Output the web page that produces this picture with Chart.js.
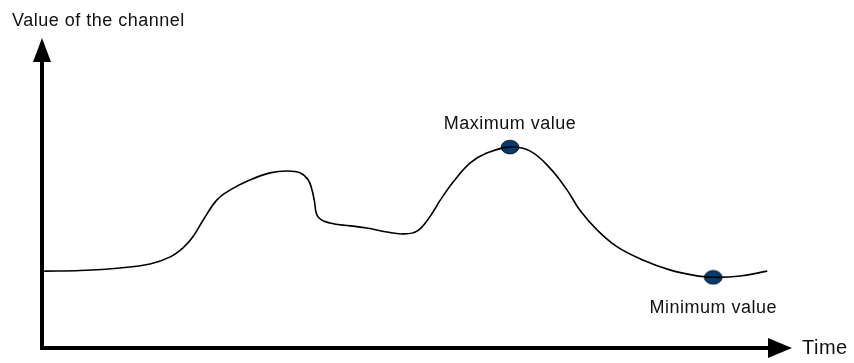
<!DOCTYPE html>
<html>
<head>
<meta charset="utf-8">
<title>Value of the channel</title>
<script src="https://cdn.jsdelivr.net/npm/chart.js@4"></script>
<style>
    html, body { margin: 0; padding: 0; background: #fff; }
    #wrap { width: 854px; height: 363px; position: relative; }
</style>
</head>
<body>
<div id="wrap"><canvas id="grafico"></canvas></div>
<script>
// curve samples (time, value)
const tempos = [0.3, 5.1, 10.4, 14.4, 17.1, 18.8, 20.1, 21.5, 23.3, 25.1, 27.7, 30.4, 32.7, 34.4, 35.5,
    36.0, 36.3, 36.8, 38.4, 41.1, 43.3, 46.0, 48.1, 50.0, 51.7, 53.1, 54.8, 57.1, 59.3, 62.4,
    65.1, 67.7, 70.0, 71.7, 74.0, 76.7, 80.1, 83.7, 86.8, 89.5, 93.1, 96.7];
const valores = [24.8, 25.0, 25.8, 27.1, 29.4, 32.3, 35.8, 41.3, 47.7, 51.0, 54.2, 56.5, 57.1, 56.5, 54.2,
    51.0, 47.7, 42.3, 40.3, 39.4, 38.7, 37.4, 36.8, 37.7, 42.3, 47.7, 53.5, 59.7, 62.9, 64.8,
    63.5, 58.1, 51.0, 44.5, 38.1, 32.6, 28.4, 25.2, 23.5, 22.8, 23.2, 24.8];

// marked extremes
const extremosTempo = [62.4, 89.5];
const extremosValor = [64.8, 22.8];
const extremosRotulo = ["Maximum value", "Minimum value"];

const tituloY = "Value of the channel";
const tituloX = "Time";

const fonte = '"Liberation Sans", Arial, sans-serif';

// oval marker for the extremes
function criarMarcador() {
    const c = document.createElement('canvas');
    c.width = 20;
    c.height = 16;
    const g = c.getContext('2d');
    g.beginPath();
    g.ellipse(10, 8, 8.8, 6.8, 0, 0, Math.PI * 2);
    g.fillStyle = '#023a72';
    g.fill();
    g.lineWidth = 1;
    g.strokeStyle = '#111';
    g.stroke();
    return c;
}

const eixosPlugin = {
    id: 'eixos',
    beforeDatasetsDraw(chart) {
        const { ctx, chartArea } = chart;
        const x0 = chartArea.left, y0 = chartArea.bottom;
        ctx.save();
        ctx.strokeStyle = '#000';
        ctx.fillStyle = '#000';
        ctx.lineWidth = 4;
        ctx.lineCap = 'butt';
        // vertical axis
        ctx.beginPath();
        ctx.moveTo(x0, y0 + 2);
        ctx.lineTo(x0, chartArea.top + 22);
        ctx.stroke();
        ctx.beginPath();
        ctx.moveTo(x0, chartArea.top);
        ctx.lineTo(x0 - 9, chartArea.top + 24);
        ctx.lineTo(x0 + 9, chartArea.top + 24);
        ctx.closePath();
        ctx.fill();
        // horizontal axis
        ctx.beginPath();
        ctx.moveTo(x0 - 2, y0);
        ctx.lineTo(chartArea.right - 22, y0);
        ctx.stroke();
        ctx.beginPath();
        ctx.moveTo(chartArea.right, y0);
        ctx.lineTo(chartArea.right - 24, y0 - 10);
        ctx.lineTo(chartArea.right - 24, y0 + 10);
        ctx.closePath();
        ctx.fill();
        ctx.restore();
    },
    afterDatasetsDraw(chart) {
        const { ctx, chartArea } = chart;
        ctx.save();
        ctx.fillStyle = '#111';
        ctx.textBaseline = 'middle';
        ctx.letterSpacing = '0.5px';
        ctx.font = '18px ' + fonte;
        ctx.textAlign = 'left';
        ctx.fillText(tituloY, 12, 21);
        ctx.font = '20px ' + fonte;
        ctx.fillText(tituloX, chartArea.right + 10, chartArea.bottom);
        ctx.font = '18px ' + fonte;
        ctx.textAlign = 'center';
        const pontos = chart.getDatasetMeta(1).data;
        pontos.forEach((p, i) => {
            const dy = i === 0 ? -23 : 31;
            ctx.fillText(extremosRotulo[i], p.x, p.y + dy);
        });
        ctx.restore();
    }
};

new Chart(document.getElementById('grafico'), {
    type: 'line',
    data: {
        datasets: [{
            data: tempos.map((t, i) => ({ x: t, y: valores[i] })),
            borderColor: '#000',
            borderWidth: 1.6,
            pointRadius: 0,
            tension: 0.4,
            fill: false
        }, {
            data: extremosTempo.map((t, i) => ({ x: t, y: extremosValor[i] })),
            showLine: false,
            pointStyle: criarMarcador(),
            pointRadius: 8
        }]
    },
    options: {
        responsive: true,
        maintainAspectRatio: false,
        animation: false,
        layout: { padding: { left: 42, top: 38, right: 62, bottom: 15 } },
        plugins: { legend: { display: false }, tooltip: { enabled: false } },
        scales: {
            x: { type: 'linear', min: 0, max: 100, display: false },
            y: { min: 0, max: 100, display: false }
        }
    },
    plugins: [eixosPlugin]
});
</script>
</body>
</html>
